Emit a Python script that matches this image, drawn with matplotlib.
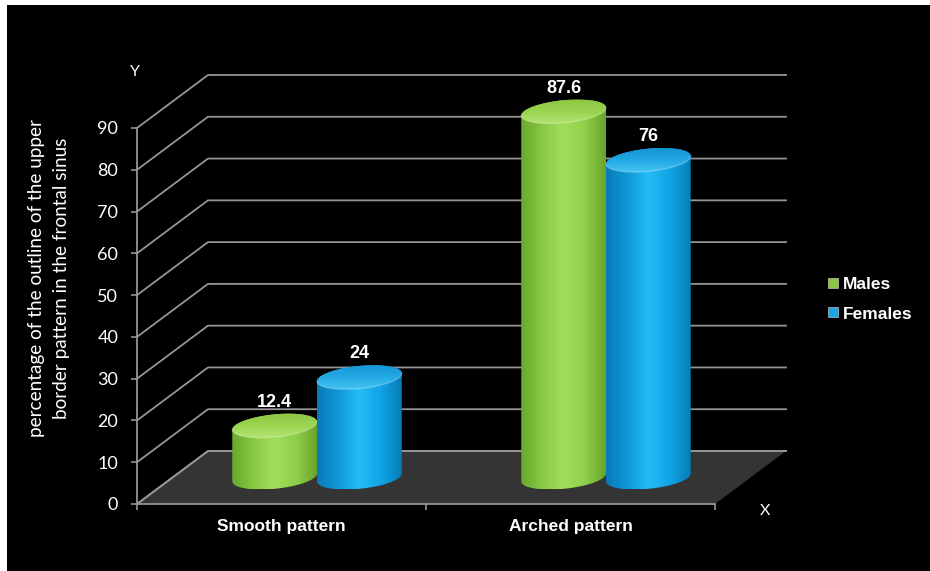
import numpy as np
import matplotlib.pyplot as plt
from matplotlib.patches import Polygon, Rectangle
from matplotlib.colors import LinearSegmentedColormap
from matplotlib.lines import Line2D

# chart data
categories = ['Smooth pattern', 'Arched pattern']
series_names = ['Males', 'Females']
males = [12.4, 87.6]
females = [24, 76]
y_ticks = [0, 10, 20, 30, 40, 50, 60, 70, 80, 90]

# colours: body gradient (left -> right) and top gradient (back -> front)
body_colors = {
    'Males': ['#68a82c', '#88c944', '#a2de5c', '#90d04a', '#68a42c'],
    'Females': ['#087cb8', '#0f98d8', '#24bcf5', '#10a5e6', '#077cb6'],
}
top_colors = {
    'Males': ['#b6e374', '#9bd451', '#8cc843'],
    'Females': ['#45c2f2', '#22a8e4', '#1696d4'],
}
legend_colors = {'Males': '#8cc63f', 'Females': '#1aa7e2'}

grid_color = '#959595'
floor_color = '#343434'

fig = plt.figure(figsize=(9.3, 5.71), dpi=100)
fig.patch.set_facecolor('white')
fig.add_artist(Rectangle((7 / 930, 0), 1, 1 - 5 / 571, transform=fig.transFigure,
                         facecolor='black', edgecolor='none', zorder=-10))

ax = fig.add_axes([137 / 930, 67 / 571, 578 / 930, 376 / 571])
ax.set_facecolor('none')

# oblique depth of the 3-D box, in data units (category units, value units)
DX = 71 / 289
DY = 53 / (376 / 90)

# back wall grid lines with the diagonal on the side wall
for v in y_ticks:
    ax.plot([-0.5, -0.5 + DX, 1.5 + DX], [v, v + DY, v + DY],
            color=grid_color, lw=1.3, clip_on=False, zorder=1)

# floor
floor = Polygon([(-0.5, 0), (1.5, 0), (1.5 + DX, DY), (-0.5 + DX, DY)],
                closed=True, facecolor=floor_color, edgecolor='none', zorder=0.5,
                clip_on=False)
ax.add_patch(floor)
ax.plot([-0.5, -0.5 + DX, 1.5 + DX], [0, DY, DY], color=grid_color, lw=1.3,
        clip_on=False, zorder=1)

# cylinder geometry
A = 40 / 289            # half width along x
B = 14 / 289            # skew of the ellipse from the depth direction
C = 12 / (376 / 90)     # vertical half height of the ellipse
depth = 0.5             # cylinders sit half way back on the floor
half_w = np.hypot(A, B)
t0 = np.arctan2(B, A)


def draw_cylinder(xc, value, name, z):
    cx = xc + DX * depth
    y0 = DY * depth
    y1 = y0 + value

    tb = np.linspace(t0 - np.pi, t0, 120)
    tt = np.linspace(t0, t0 + np.pi, 120)
    bottom = np.column_stack([cx + A * np.cos(tb) + B * np.sin(tb), y0 + C * np.sin(tb)])
    top = np.column_stack([cx + A * np.cos(tt) + B * np.sin(tt), y1 + C * np.sin(tt)])
    body = Polygon(np.vstack([bottom, top]), closed=True, facecolor='none',
                   edgecolor='none', clip_on=False, zorder=z)
    ax.add_patch(body)

    cmap = LinearSegmentedColormap.from_list(name + '_body', body_colors[name])
    im = ax.imshow(np.linspace(0, 1, 256)[None, :], cmap=cmap, aspect='auto',
                   extent=[cx - half_w, cx + half_w, y0 - C, y1 + C],
                   origin='lower', interpolation='bilinear', zorder=z)
    im.set_clip_path(body)
    im.set_clip_box(fig.bbox)

    te = np.linspace(0, 2 * np.pi, 240)
    ell = np.column_stack([cx + A * np.cos(te) + B * np.sin(te), y1 + C * np.sin(te)])
    cap = Polygon(ell, closed=True, facecolor='none', edgecolor='none',
                  clip_on=False, zorder=z + 0.01)
    ax.add_patch(cap)
    cmap_top = LinearSegmentedColormap.from_list(name + '_top', top_colors[name])
    im2 = ax.imshow(np.linspace(1, 0, 256)[:, None], cmap=cmap_top, aspect='auto',
                    extent=[cx - half_w, cx + half_w, y1 - C, y1 + C],
                    origin='upper', interpolation='bilinear', zorder=z + 0.01)
    im2.set_clip_path(cap)
    im2.set_clip_box(fig.bbox)

    # light rim where the cap meets the body
    tf = np.linspace(t0 - np.pi, t0, 120)
    ax.plot(cx + A * np.cos(tf) + B * np.sin(tf), y1 + C * np.sin(tf),
            color='white', alpha=0.25, lw=1.0, clip_on=False, zorder=z + 0.02)

    ax.annotate(f'{value:g}', (cx, y1 + C), xytext=(0, 2), textcoords='offset points',
                ha='center', va='bottom', color='white', fontsize=13,
                fontweight='bold', family='Liberation Sans', annotation_clip=False,
                zorder=10)


for i, cat in enumerate(categories):
    draw_cylinder(i - half_w, males[i], 'Males', 3 + i)
    draw_cylinder(i + half_w, females[i], 'Females', 3.5 + i)

ax.set_xlim(-0.5, 1.5)
ax.set_ylim(0, 90)

# axes styling
for side in ['top', 'right']:
    ax.spines[side].set_visible(False)
for side in ['left', 'bottom']:
    ax.spines[side].set_color(grid_color)
    ax.spines[side].set_linewidth(1.3)
    ax.spines[side].set_zorder(2)

ax.set_yticks(y_ticks)
ax.tick_params(axis='y', colors=grid_color, labelcolor='white', length=4.5,
               width=1.2, pad=9, labelsize=13)
ax.set_xticks(range(len(categories)))
ax.set_xticklabels(categories)
ax.set_xticks([-0.5, 0.5, 1.5], minor=True)
ax.tick_params(axis='x', which='major', length=0, pad=11, labelcolor='white',
               labelsize=12.5)
ax.tick_params(axis='x', which='minor', length=4, width=1.2, colors=grid_color)
for lbl in ax.get_xticklabels():
    lbl.set_fontweight('bold')
    lbl.set_family('Liberation Sans')
for lbl in ax.get_yticklabels():
    lbl.set_family('Lato')

fig.text(49 / 930, 1 - 278 / 571,
         'percentage of the outline of the upper\nborder pattern in the frontal sinus',
         rotation=90, ha='center', va='center', color='white', fontsize=13.6,
         family='Lato', linespacing=1.6)
fig.text(135 / 930, 1 - 72 / 571, 'Y', ha='center', va='center', color='white',
         fontsize=11.5, family='Lato')
fig.text(765 / 930, 1 - 511 / 571, 'X', ha='center', va='center', color='white',
         fontsize=11.5, family='Lato')

handles = [Line2D([], [], marker='s', ls='none', markersize=6.5,
                  markerfacecolor=legend_colors[n], markeredgecolor='#dddddd',
                  markeredgewidth=0.4) for n in series_names]
fig.legend(handles, series_names, loc='center left',
           bbox_to_anchor=(812 / 930, 1 - 299 / 571), frameon=False,
           handlelength=0.6, handletextpad=0.3, labelspacing=0.85,
           labelcolor='white', prop={'family': 'Liberation Sans', 'weight': 'bold',
                                     'size': 12.5})

fig.savefig('out.png', dpi=100, facecolor=fig.get_facecolor())
